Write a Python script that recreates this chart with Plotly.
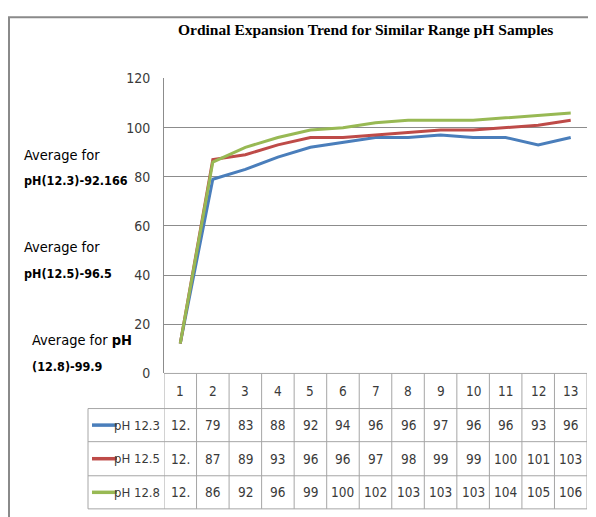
import plotly.graph_objects as go

# ---- data ----
categories = [1, 2, 3, 4, 5, 6, 7, 8, 9, 10, 11, 12, 13]
series_names = ["pH 12.3", "pH 12.5", "pH 12.8"]
ph_12_3 = [12.2, 79, 83, 88, 92, 94, 96, 96, 97, 96, 96, 93, 96]
ph_12_5 = [12.2, 87, 89, 93, 96, 96, 97, 98, 99, 99, 100, 101, 103]
ph_12_8 = [12.2, 86, 92, 96, 99, 100, 102, 103, 103, 103, 104, 105, 106]
series_colors = ["#4A7EBB", "#BE4B48", "#98B954"]
y_ticks = [0, 20, 40, 60, 80, 100, 120]
title_text = "Ordinal Expansion Trend for Similar Range pH Samples"
avg_notes = [
    ("Average for", "<b>pH(12.3)-92.166</b>"),
    ("Average for", "<b>pH(12.5)-96.5</b>"),
    ("Average for <b>pH</b>", "<b>(12.8)-99.9</b>"),
]

W, H = 596, 517
# map screen pixel positions to paper fractions (page offset / rendered height)
OX, OY, RH = 8.0, 16.7, 499.4
def px(x):
    return (x - OX) / W
def py(y):
    return 1 - (y - OY) / RH

FONT = "DejaVu Sans Condensed, Liberation Sans Narrow, sans-serif"
GRID = "#8c8c8c"
TBL = "#a6a6a6"
TXT = "#3a3a3a"

fig = go.Figure()
all_series = [ph_12_3, ph_12_5, ph_12_8]
for name, vals, col in zip(series_names, all_series, series_colors):
    fig.add_trace(go.Scatter(x=categories, y=vals, mode="lines", name=name,
                             line=dict(color=col, width=3), showlegend=False,
                             hoverinfo="x+y+name"))

plot_left, plot_right, plot_top, plot_bottom = 164, 587, 79, 373
fig.update_layout(
    width=W, height=H, autosize=False,
    margin=dict(l=0, r=0, t=0, b=0),
    paper_bgcolor="white", plot_bgcolor="white",
    xaxis=dict(domain=[px(plot_left), px(plot_right)], range=[0.5, 13.5],
               showgrid=False, showticklabels=False, zeroline=False,
               showline=False, fixedrange=True),
    yaxis=dict(domain=[py(plot_bottom), py(plot_top)], range=[0, 120],
               tickvals=y_ticks, showgrid=True, gridcolor=GRID, gridwidth=1,
               zeroline=False, showline=True, linecolor=GRID, linewidth=1,
               ticks="", ticklabelstandoff=10,
               tickfont=dict(family=FONT, size=14, color=TXT),
               fixedrange=True),
    font=dict(family=FONT),
)

shapes = []
# outer chart frame (top & left visible)
shapes.append(dict(type="rect", xref="paper", yref="paper",
                   x0=px(9), x1=px(W + 20), y0=py(H + 20), y1=py(18),
                   line=dict(color="#8a8a8a", width=2)))

# table geometry
row_edges = [373, 408, 441, 475, 508]
tbl_left = 88
for i, yv in enumerate(row_edges):
    x0 = plot_left if i == 0 else tbl_left
    shapes.append(dict(type="line", xref="paper", yref="paper",
                       x0=px(x0), x1=px(plot_right), y0=py(yv), y1=py(yv),
                       line=dict(color=TBL, width=1)))
for k in range(len(categories) + 1):
    shapes.append(dict(type="line", xref="x", yref="paper",
                       x0=k + 0.5, x1=k + 0.5, y0=py(row_edges[-1]), y1=py(row_edges[0]),
                       line=dict(color=TBL, width=1)))
shapes.append(dict(type="line", xref="paper", yref="paper",
                   x0=px(tbl_left), x1=px(tbl_left), y0=py(row_edges[-1]), y1=py(row_edges[1]),
                   line=dict(color=TBL, width=1)))

annotations = []
annotations.append(dict(text="<b>" + title_text + "</b>", xref="paper", yref="paper",
                        x=px(365), y=py(30), showarrow=False, xanchor="center", yanchor="middle",
                        font=dict(family="Liberation Serif, Times New Roman, serif", size=15.5, color="black")))
header_y = (row_edges[0] + row_edges[1]) / 2
for c in categories:
    annotations.append(dict(text=str(c), xref="x", yref="paper", x=c, y=py(header_y),
                            yanchor="middle", showarrow=False,
                            font=dict(family=FONT, size=13.5, color=TXT)))
for r, (name, vals, col) in enumerate(zip(series_names, all_series, series_colors)):
    yc = (row_edges[r + 1] + row_edges[r + 2]) / 2
    shapes.append(dict(type="line", xref="paper", yref="paper",
                       x0=px(92), x1=px(117), y0=py(yc), y1=py(yc),
                       line=dict(color=col, width=3.5)))
    annotations.append(dict(text=name, xref="paper", yref="paper", x=px(162), y=py(yc),
                            xanchor="right", yanchor="middle", showarrow=False,
                            font=dict(family=FONT, size=13, color=TXT)))
    for c, v in zip(categories, vals):
        label = ("%g" % v)[:3]
        annotations.append(dict(text=label, xref="x", yref="paper", x=c, y=py(yc),
                                yanchor="middle", showarrow=False,
                                font=dict(family=FONT, size=13.5, color=TXT)))
note_pos = [(22, 155, 181), (22, 247, 273), (30, 340, 366)]
for (l1, l2), (xl, y1, y2) in zip(avg_notes, note_pos):
    annotations.append(dict(text=l1, xref="paper", yref="paper", x=px(xl), y=py(y1),
                            xanchor="left", yanchor="middle", showarrow=False,
                            font=dict(family=FONT, size=14.5, color="black")))
    annotations.append(dict(text=l2, xref="paper", yref="paper", x=px(xl), y=py(y2),
                            xanchor="left", yanchor="middle", showarrow=False,
                            font=dict(family=FONT, size=12.5, color="black")))

fig.update_layout(shapes=shapes, annotations=annotations)
fig.write_html("out.html")
